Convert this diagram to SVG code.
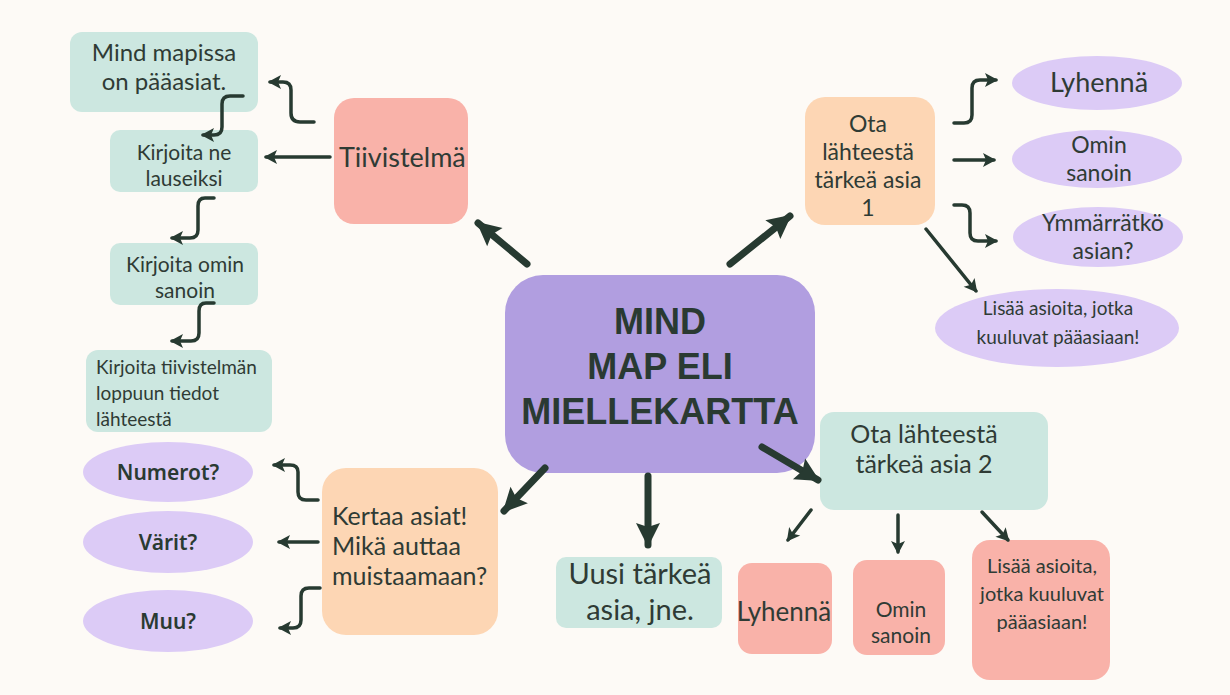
<svg xmlns="http://www.w3.org/2000/svg" width="1230" height="695" viewBox="0 0 1230 695">
<style>
.t{font-family:Lato,"Noto Sans","Liberation Sans",sans-serif;fill:#2f3b35}
.h{font-family:"Noto Sans","DejaVu Sans",sans-serif;font-weight:600;fill:#2a3a32}
.m{font-family:"Liberation Sans",Arial,sans-serif;font-weight:bold;fill:#2a3a32}
.teal{fill:#cce7e0}.pink{fill:#f9b2a9}.peach{fill:#fdd6b4}.lil{fill:#dccbf6}
.c{stroke:#273a31;fill:none;stroke-linecap:round;stroke-linejoin:round}
.thin{stroke-width:3.5;marker-end:url(#ah)}
.thick{stroke-width:7;marker-end:url(#AH)}
</style>
<defs>
<marker id="ah" markerUnits="userSpaceOnUse" markerWidth="16" markerHeight="16" viewBox="0 0 16 16" refX="13" refY="8" orient="auto"><path d="M2,1 L15,8 L2,15 L5,8 Z" fill="#273a31"/></marker>
<marker id="AH" markerUnits="userSpaceOnUse" markerWidth="28" markerHeight="28" viewBox="0 0 28 28" refX="24" refY="14" orient="auto"><path d="M2,2 L26,14 L2,26 L6,14 Z" fill="#273a31"/></marker>
</defs>
<rect width="1230" height="695" fill="#fdfaf6"/>
<g id="center"><rect x="505" y="275" width="310" height="198" rx="38" fill="#b19ee0"/>
<text class="m" font-size="36" text-anchor="middle"><tspan x="660" y="334">MIND</tspan><tspan x="660" y="379">MAP ELI</tspan><tspan x="660" y="424">MIELLEKARTTA</tspan></text></g>
<g id="tiivistelma"><rect class="pink" x="334" y="98" width="134" height="126" rx="20"/><text class="t" x="339" y="167" font-size="27">Tiivistelmä</text></g>
<g id="mindmapissa"><rect class="teal" x="70" y="32" width="188" height="80" rx="12"/><text class="t" font-size="24" text-anchor="middle"><tspan x="164" y="61">Mind mapissa</tspan><tspan x="164" y="90">on pääasiat.</tspan></text></g>
<g id="lauseiksi"><rect class="teal" x="110" y="130" width="148" height="62" rx="10"/><text class="t" font-size="21" text-anchor="middle"><tspan x="184" y="160">Kirjoita ne</tspan><tspan x="184" y="186">lauseiksi</tspan></text></g>
<g id="ominsanoin1"><rect class="teal" x="110" y="243" width="148" height="62" rx="10"/><text class="t" font-size="21" text-anchor="middle"><tspan x="185" y="272">Kirjoita omin</tspan><tspan x="185" y="298">sanoin</tspan></text></g>
<g id="lahteesta"><rect class="teal" x="86" y="350" width="186" height="82" rx="12"/><text class="t" font-size="19"><tspan x="96" y="374">Kirjoita tiivistelmän</tspan><tspan x="96" y="400">loppuun tiedot</tspan><tspan x="96" y="426">lähteestä</tspan></text></g>
<g id="asia1"><rect class="peach" x="805" y="97" width="130" height="128" rx="20"/><text class="t" font-size="23" text-anchor="middle"><tspan x="868" y="132">Ota</tspan><tspan x="868" y="160">lähteestä</tspan><tspan x="868" y="188">tärkeä asia</tspan><tspan x="868" y="216">1</tspan></text></g>
<g id="lyhenna1"><ellipse class="lil" cx="1097" cy="83" rx="85" ry="27"/><text class="t" x="1099" y="92" font-size="27" text-anchor="middle">Lyhennä</text></g>
<g id="omin1"><ellipse class="lil" cx="1097" cy="159" rx="85" ry="29"/><text class="t" font-size="23" text-anchor="middle"><tspan x="1099" y="153">Omin</tspan><tspan x="1099" y="181">sanoin</tspan></text></g>
<g id="ymmarratko"><ellipse class="lil" cx="1098" cy="237" rx="85" ry="30"/><text class="t" font-size="23" text-anchor="middle"><tspan x="1103" y="231">Ymmärrätkö</tspan><tspan x="1103" y="259">asian?</tspan></text></g>
<g id="lisaa1"><ellipse class="lil" cx="1057" cy="328" rx="122" ry="39"/><text class="t" font-size="19" text-anchor="middle"><tspan x="1058" y="315">Lisää asioita, jotka</tspan><tspan x="1058" y="344">kuuluvat pääasiaan!</tspan></text></g>
<g id="asia2"><rect class="teal" x="820" y="412" width="228" height="98" rx="14"/><text class="t" font-size="25" text-anchor="middle"><tspan x="924" y="443">Ota lähteestä</tspan><tspan x="924" y="473">tärkeä asia 2</tspan></text></g>
<g id="lyhenna2"><rect class="pink" x="738" y="563" width="94" height="91" rx="14"/><text class="t" x="784" y="621" font-size="26" text-anchor="middle">Lyhennä</text></g>
<g id="omin2"><rect class="pink" x="853" y="560" width="92" height="95" rx="14"/><text class="t" font-size="21" text-anchor="middle"><tspan x="901" y="617">Omin</tspan><tspan x="901" y="643">sanoin</tspan></text></g>
<g id="lisaa2"><rect class="pink" x="972" y="540" width="138" height="140" rx="18"/><text class="t" font-size="20" text-anchor="middle"><tspan x="1042" y="573">Lisää asioita,</tspan><tspan x="1042" y="601">jotka kuuluvat</tspan><tspan x="1042" y="629">pääasiaan!</tspan></text></g>
<g id="uusi"><rect class="teal" x="556" y="557" width="166" height="71" rx="10"/><text class="t" font-size="29" text-anchor="middle"><tspan x="640" y="584">Uusi tärkeä</tspan><tspan x="640" y="620">asia, jne.</tspan></text></g>
<g id="kertaa"><rect class="peach" x="322" y="468" width="176" height="167" rx="24"/><text class="t" font-size="25"><tspan x="332" y="525">Kertaa asiat!</tspan><tspan x="332" y="555">Mikä auttaa</tspan><tspan x="332" y="585">muistaamaan?</tspan></text></g>
<g id="numerot"><ellipse class="lil" cx="168" cy="472" rx="85" ry="30"/><text class="h" x="168" y="480" font-size="21" text-anchor="middle">Numerot?</text></g>
<g id="varit"><ellipse class="lil" cx="168" cy="542" rx="85" ry="31"/><text class="h" x="168" y="550" font-size="21" text-anchor="middle">Värit?</text></g>
<g id="muu"><ellipse class="lil" cx="168" cy="621" rx="85" ry="31"/><text class="h" x="168" y="629" font-size="21" text-anchor="middle">Muu?</text></g>
<g id="connectors">
<path class="c thin" d="M314 122 H300 Q291 122 291 113 V90 Q291 82 283 82 H270"/>
<path class="c thin" d="M330 157 H266"/>
<path class="c thin" d="M243 96 H230 Q222 96 222 104 V127 Q222 135 214 135 H203"/>
<path class="c thin" d="M214 198 H205 Q198 198 198 206 V230 Q198 238 190 238 H172"/>
<path class="c thin" d="M214 303 H206 Q199 303 199 311 V333 Q199 341 191 341 H172"/>
<path class="c thick" d="M527 264 L478 223"/>
<path class="c thick" d="M730 264 L790 216"/>
<path class="c thin" d="M954 123 H964 Q972 123 972 115 V88 Q972 80 980 80 H996"/>
<path class="c thin" d="M954 160 H994"/>
<path class="c thin" d="M954 205 H962 Q970 205 970 213 V233 Q970 241 978 241 H996"/>
<path class="c thin" d="M926 229 L976 291"/>
<path class="c thick" d="M762 447 L818 480"/>
<path class="c thin" d="M811 510 L788 540"/>
<path class="c thin" d="M898 515 V552"/>
<path class="c thin" d="M982 512 L1008 540"/>
<path class="c thick" d="M648 476 V545"/>
<path class="c thick" d="M545 468 L504 511"/>
<path class="c thin" d="M318 500 H306 Q298 500 298 492 V472 Q298 465 290 465 H274"/>
<path class="c thin" d="M318 542 H279"/>
<path class="c thin" d="M320 588 H309 Q301 588 301 596 V620 Q301 628 293 628 H280"/>
</g>
</svg>
